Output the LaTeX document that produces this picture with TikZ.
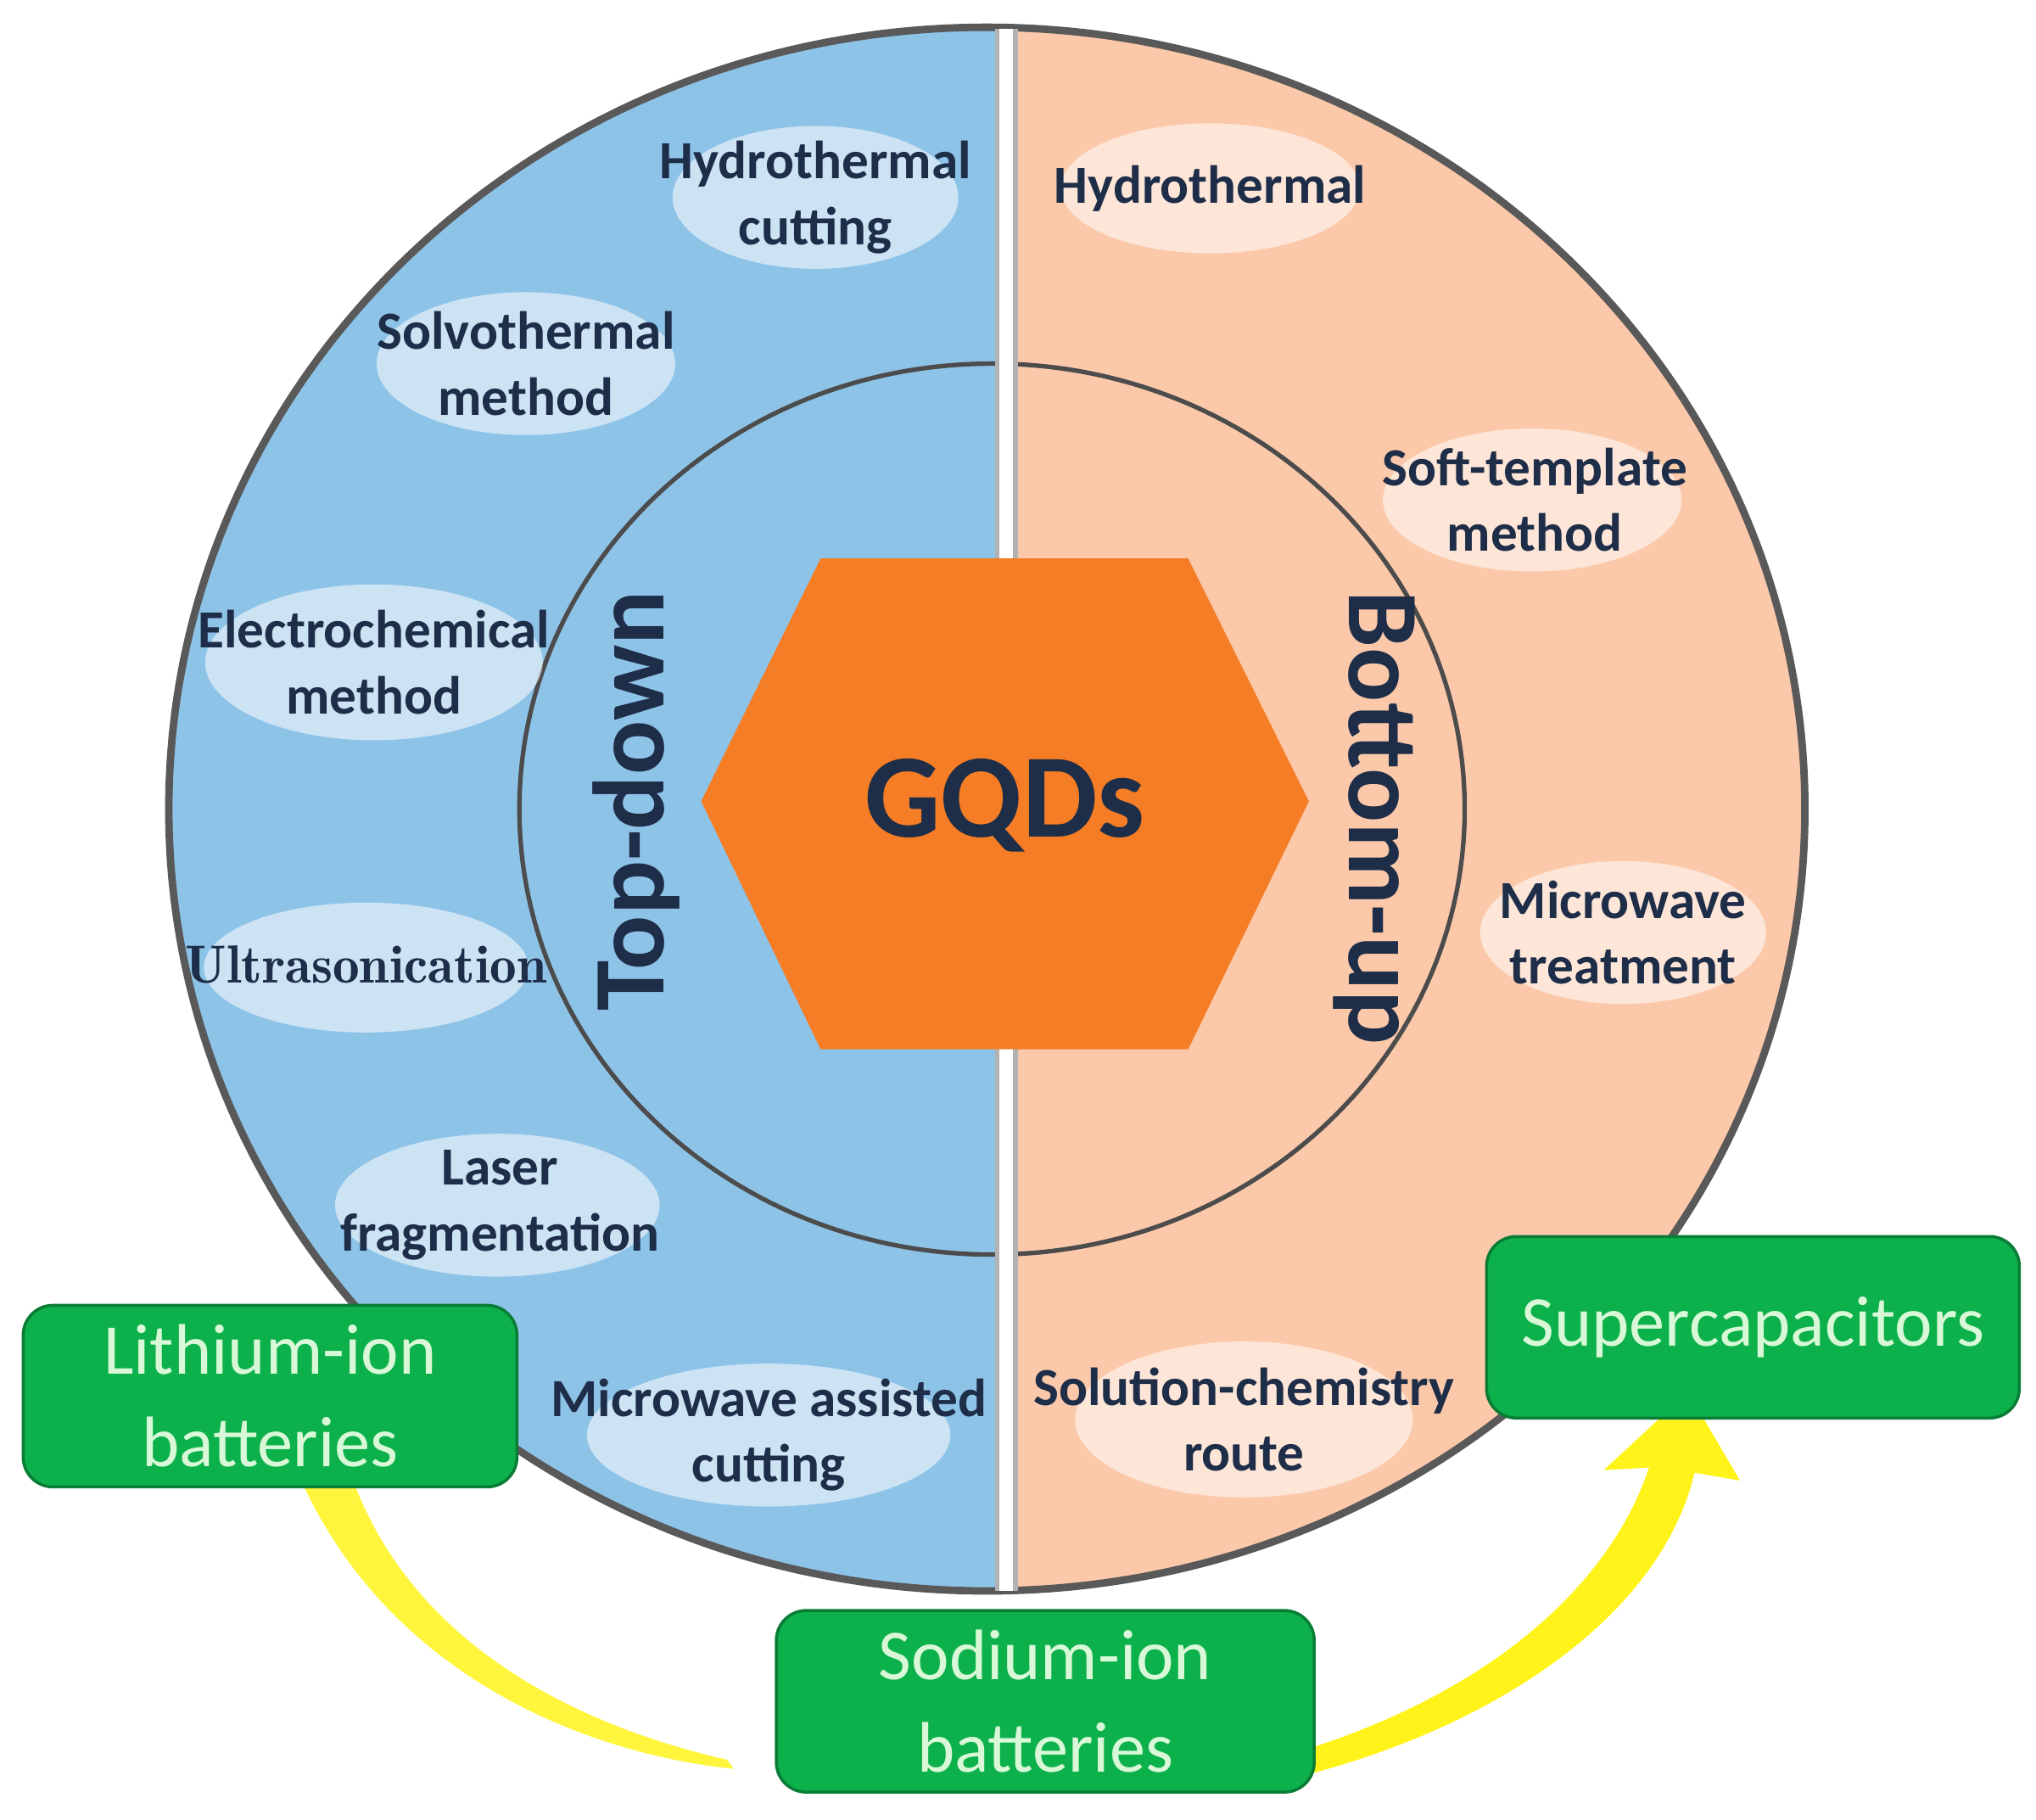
\documentclass[tikz,border=0pt]{standalone}
\usepackage{fontspec}
\setmainfont{Carlito}
\usetikzlibrary{arrows.meta}
\definecolor{lblue}{HTML}{8EC3E8}
\definecolor{lpeach}{HTML}{FBC9AA}
\definecolor{navy}{HTML}{1E2D48}
\definecolor{gqd}{HTML}{F47D25}
\definecolor{gbox}{HTML}{0DB14B}
\definecolor{gtext}{HTML}{D8F8D8}
\tikzset{
  lbl/.style={font=\fontsize{18}{22}\selectfont\bfseries, text=navy, align=center},
  glow/.style={fill=white, opacity=0.55},
  gnode/.style={draw=gbox!70!black, line width=1pt, fill=gbox, rounded corners=10pt, text=gtext, font=\fontsize{24}{31}\selectfont, align=center, inner sep=2pt},
  yarrow/.style={draw=none, fill=yellow!90!white}
}
\begin{document}
\begin{tikzpicture}[x=0.015306cm, y=-0.015306cm]
\useasboundingbox (0,0) rectangle (1568,1401);
% outer circle
\begin{scope}
\clip (130,0) rectangle (775,1401);
\fill[lblue] (760,623) ellipse [x radius=630, y radius=602];
\end{scope}
\begin{scope}
\clip (775,0) rectangle (1568,1401);
\fill[lpeach] (760,623) ellipse [x radius=630, y radius=602];
\end{scope}
\draw[gray!70!black, line width=2.5pt] (760,623) ellipse [x radius=630, y radius=602];
\draw[black!70, line width=1.5pt] (764,623) ellipse [x radius=364, y radius=343];
\fill[white] (768,22) rectangle (782,1225);
\draw[gray!60, line width=1.5pt] (768,22) -- (768,1225) (782,22) -- (782,1225);
% hexagon
\node[coordinate] (hc) at (774,620) {};
\fill[gqd] (540,617) -- (632,430) -- (915,430) -- (1008,617) -- (915,808) -- (632,808) -- cycle;
\node[font=\fontsize{40}{44}\selectfont\bfseries, text=navy] (gq) at (hc) {GQDs};
\node[font=\fontsize{34}{40}\selectfont\bfseries, text=navy, rotate=90] (td) at (490,617) {Top-down};
\node[font=\fontsize{34}{40}\selectfont\bfseries, text=navy, rotate=-90] (bu) at (1058,630) {Bottom-up};
% glows
\foreach \x/\y/\rx/\ry in {628/152/110/55, 405/280/115/55, 288/510/130/60, 282/745/125/50, 383/928/125/55, 592/1105/140/55, 932/145/115/50, 1180/385/115/55, 1250/718/110/55, 958/1093/130/60}
  \fill[glow] (\x,\y) ellipse [x radius=\rx, y radius=\ry];
\node[lbl] (l1) at (628,152) {Hydrothermal\\cutting};
\node[lbl] (l2) at (405,280) {Solvothermal\\method};
\node[lbl] (l3) at (288,510) {Electrochemical\\method};
\node[lbl, font=\fontfamily{lmr}\fontsize{18}{22}\selectfont\bfseries] (l4) at (282,743) {Ultrasonication};
\node[lbl] (l5) at (385,928) {Laser\\fragmentation};
\node[lbl] (l6) at (592,1105) {Microwave assisted\\cutting};
\node[lbl] (r1) at (932,145) {Hydrothermal};
\node[lbl] (r2) at (1182,385) {Soft-template\\method};
\node[lbl] (r3) at (1250,718) {Microwave\\treatment};
\node[lbl] (r4) at (958,1093) {Solution-chemistry\\route};
% yellow arrows
\fill[yarrow, opacity=0.85] (232,1140) .. controls (300,1290) and (450,1350) .. (565,1362) -- (560,1355) .. controls (450,1330) and (320,1270) .. (272,1140) -- cycle;
\fill[yarrow] (1012,1345) .. controls (1150,1300) and (1240,1220) .. (1270,1130) -- (1235,1132) -- (1300,1072) -- (1340,1140) -- (1305,1134) .. controls (1280,1240) and (1160,1325) .. (1012,1365) -- cycle;
% green boxes
\node[gnode, minimum width=5.82cm, minimum height=2.14cm] (li) at (208,1075) {Lithium-ion\\batteries};
\node[gnode, minimum width=6.28cm, minimum height=2.14cm] (sc) at (1350,1022) {Supercapacitors};
\node[gnode, minimum width=6.34cm, minimum height=2.14cm] (na) at (805,1310) {Sodium-ion\\batteries};
\end{tikzpicture}
\end{document}
